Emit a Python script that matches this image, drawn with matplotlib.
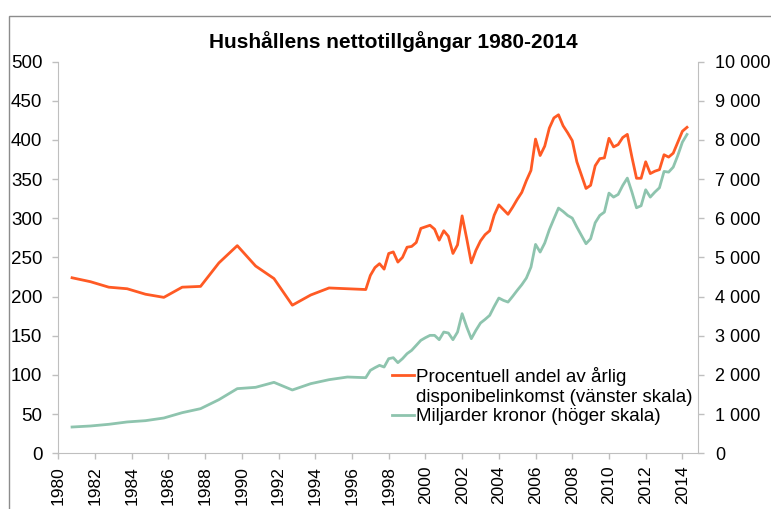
import numpy as np
import matplotlib
matplotlib.use('Agg')
import matplotlib.pyplot as plt
from matplotlib.lines import Line2D
from matplotlib.patches import Rectangle
from matplotlib.ticker import FuncFormatter

plt.rcParams['font.family'] = ['Liberation Sans', 'DejaVu Sans']

# annual data 1980-1995 (plotted at Q4), quarterly from 1996 Q4
annual_years = list(range(1980, 1996))
annual_pct = [224, 219, 212, 210, 203, 199, 212, 213, 243, 265,
              239, 223, 189, 202, 211, 210]
annual_bn = [671, 697, 740, 800, 833, 901, 1037, 1139, 1369, 1650,
             1684, 1811, 1616, 1777, 1879, 1947]

quarterly_pct = [209, 227, 237, 242, 235, 255, 257, 244, 250, 263,
                 264, 269, 287, 289, 291, 286, 272, 284, 277, 255,
                 266, 303, 274, 243, 259, 271, 279, 284, 304, 317,
                 311, 305, 314, 324, 333, 348, 361, 401, 380, 392,
                 415, 428, 432, 418, 409, 399, 372, 355, 338, 342,
                 367, 376, 377, 402, 391, 394, 403, 407, 378, 351,
                 351, 372, 357, 360, 362, 381, 378, 383, 397, 411,
                 416]
quarterly_bn = [1930, 2117, 2185, 2245, 2202, 2415, 2440, 2313, 2415, 2543,
                2628, 2755, 2883, 2951, 3010, 3010, 2900, 3095, 3070, 2900,
                3095, 3563, 3223, 2925, 3138, 3325, 3418, 3520, 3750, 3963,
                3903, 3860, 4005, 4158, 4303, 4473, 4753, 5332, 5136, 5366,
                5706, 5986, 6259, 6173, 6071, 6003, 5774, 5561, 5349, 5476,
                5885, 6071, 6156, 6641, 6539, 6607, 6837, 7024, 6667, 6267,
                6318, 6726, 6539, 6667, 6777, 7194, 7177, 7304, 7602, 7942,
                8138]

label_pct = 'Procentuell andel av årlig'
label_pct2 = 'disponibelinkomst (vänster skala)'
label_bn = 'Miljarder kronor (höger skala)'
title = 'Hushållens nettotillgångar 1980-2014'

orange = '#FF5A24'
green = '#8EC4AE'
grey = '#BFBFBF'

x = np.concatenate([np.array(annual_years) + 0.75,
                    1996.75 + np.arange(len(quarterly_pct)) / 4])
pct = annual_pct + quarterly_pct
bn = annual_bn + quarterly_bn

fig = plt.figure(figsize=(7.71, 5.09), dpi=100)
ax = fig.add_axes([58.3 / 771, 1 - 453.3 / 509, (698 - 58.3) / 771, (453.3 - 61.5) / 509])
ax2 = ax.twinx()

ax.plot(x, pct, color=orange, lw=2)
ax2.plot(x, bn, color=green, lw=2)

ax.set_xlim(1980, 2014.85)
ax.set_ylim(0, 500)
ax2.set_ylim(0, 10000)
ax.set_xticks(range(1980, 2015, 2))
ax.set_yticks(range(0, 501, 50))
ax2.set_yticks(range(0, 10001, 1000))
ax2.yaxis.set_major_formatter(FuncFormatter(lambda v, p: f'{int(v):,}'.replace(',', ' ')))

ax.tick_params(axis='x', labelrotation=90, labelsize=12.5, length=4, width=1,
               color=grey, pad=5)
ax.tick_params(axis='y', labelsize=13.5, length=4, width=1, color=grey, pad=7.5)
ax2.tick_params(axis='y', labelsize=13, length=4, width=1, color=grey, pad=8.5)

for a in (ax, ax2):
    a.spines['top'].set_visible(False)
    for s in a.spines.values():
        s.set_color(grey)
ax.spines['right'].set_visible(False)
ax2.spines['left'].set_visible(False)
ax2.spines['bottom'].set_visible(False)

fig.text(0.51, 0.918, title, ha='center', va='center', fontsize=15, fontweight='bold')

handles = [Line2D([], [], color=orange, lw=2),
           Line2D([], [], color='none'),
           Line2D([], [], color=green, lw=2)]
fig.legend(handles, [label_pct, label_pct2, label_bn], loc='upper left',
           bbox_to_anchor=(392 / 771, 1 - 367 / 509), frameon=False,
           fontsize=13.5, handlelength=1.15, handletextpad=0.15,
           labelspacing=0.13, borderpad=0, borderaxespad=0)

# outer chart frame
fig.add_artist(Rectangle((9 / 771, -0.05), 1.1, (509 - 16) / 509 + 0.05,
                         transform=fig.transFigure, fill=False,
                         edgecolor='#8C8C8C', lw=1, clip_on=False))

fig.savefig('out.png', dpi=100)
